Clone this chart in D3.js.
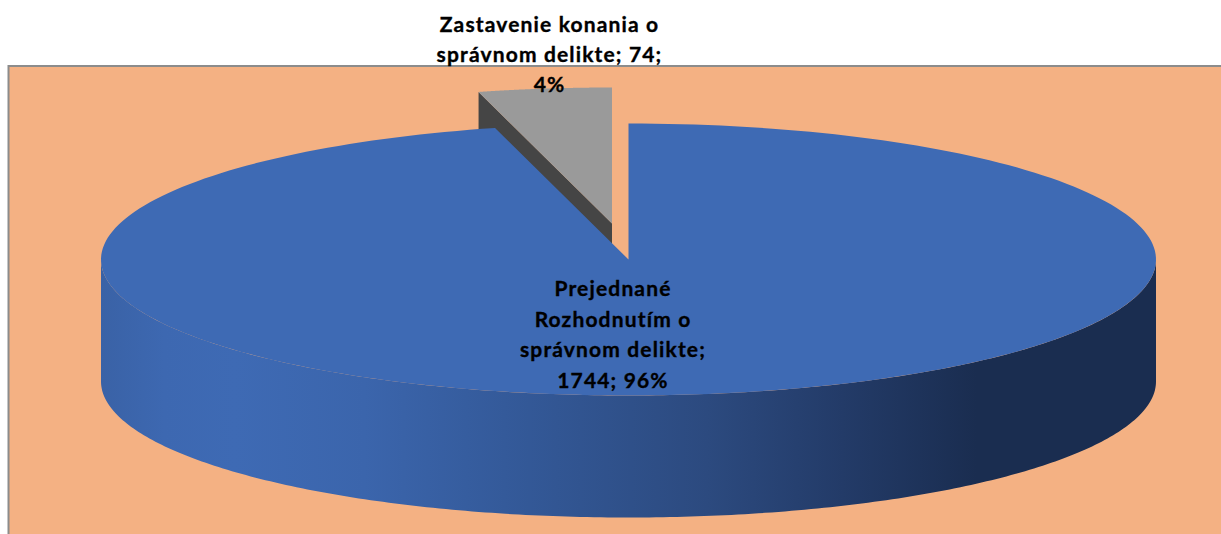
<!DOCTYPE html>
<html><head><meta charset="utf-8">
<style>html,body{margin:0;padding:0;background:#fff}svg{display:block}</style>
<script src="https://cdn.jsdelivr.net/npm/d3@7/dist/d3.min.js"></script>
</head><body><svg id="c" width="1221" height="534"></svg>
<script>
const categories = ["Prejednané Rozhodnutím o správnom delikte", "Zastavenie konania o správnom delikte"];
const values = [1744, 74];
const percents = ["96%", "4%"];
const topColors = ["#3e6ab4", "#9a9a9a"];
const labelLines = [
  ["Prejednané", "Rozhodnutím o", "správnom delikte;", "1744; 96%"],
  ["Zastavenie konania o", "správnom delikte; 74;", "4%"]
];
const gradientStops = [[0,"#3a62a6"],[0.06,"#3d68b1"],[0.127,"#3e6ab4"],[0.25,"#3b65ac"],[0.383,"#345a9a"],[0.575,"#2c4a7f"],[0.703,"#233b68"],[0.83,"#1a2d50"],[1,"#1a2d50"]];

const svg = d3.select("#c");
const W = 1221, H = 534;
const cx = 628.5, cy = 259.5, rx = 527.5, ry = 136, depth = 122;
const explode = [[0,0],[-16.5,-36]];

svg.append("rect").attr("x",8).attr("y",66).attr("width",W-8).attr("height",H-66).attr("fill","#f4b183");
svg.append("path").attr("d",`M8.5,${H}V66H${W}`).attr("fill","none").attr("stroke","#8c8c8c").attr("stroke-width",2);

const defs = svg.append("defs");
const grad = defs.append("linearGradient").attr("id","side").attr("gradientUnits","userSpaceOnUse")
  .attr("x1",-rx).attr("x2",rx).attr("y1",0).attr("y2",0);
gradientStops.forEach(s=>grad.append("stop").attr("offset",s[0]).attr("stop-color",s[1]));

const arcs = d3.pie().sort(null)(values);
const X = d3.scaleLinear().domain([-1,1]).range([-rx,rx]);
const Y = d3.scaleLinear().domain([-1,1]).range([-ry,ry]);
const pt = a => [X(Math.sin(a)), Y(-Math.cos(a))];
const line = d3.line();
const sweep = (a0,a1,dz=0,n=240) => d3.range(n+1).map(i=>{const p=pt(a0+(a1-a0)*i/n);return [p[0],p[1]+dz];});

// grey slice first (it sits behind), blue afterwards
const g1 = svg.append("g").attr("transform",`translate(${cx+explode[1][0]},${cy+explode[1][1]})`);
const a1 = arcs[1];
const s = pt(a1.startAngle);
g1.append("path").attr("d",line([[0,0],s,[s[0],s[1]+depth],[0,depth]])+"Z").attr("fill","#454545");
g1.append("path").attr("d",line([[0,0],...sweep(a1.startAngle,a1.endAngle)])+"Z").attr("fill",topColors[1]);

const g0 = svg.append("g").attr("transform",`translate(${cx},${cy})`);
const a0 = arcs[0];
const wall = [...sweep(Math.PI/2,Math.min(a0.endAngle,3*Math.PI/2)), ...sweep(Math.min(a0.endAngle,3*Math.PI/2),Math.PI/2,depth)];
g0.append("path").attr("d",line(wall)+"Z").attr("fill","url(#side)");
g0.append("path").attr("d",line([[0,0],...sweep(a0.startAngle,a0.endAngle)])+"Z").attr("fill",topColors[0]);

const font = "Lato, Carlito, sans-serif";
const lab = (lines,x,y0,dy)=>{const t=svg.append("text").attr("text-anchor","middle").attr("font-family",font)
  .attr("font-weight",700).attr("font-size",21).attr("letter-spacing",1.15).attr("fill","#000")
  .attr("stroke","#000").attr("stroke-width",0.35);
  lines.forEach((l,i)=>t.append("tspan").attr("x",x).attr("y",y0+i*dy).text(l));};
lab(labelLines[0],613,296,30.5);
lab(labelLines[1],549.5,32,30);
</script></body></html>
